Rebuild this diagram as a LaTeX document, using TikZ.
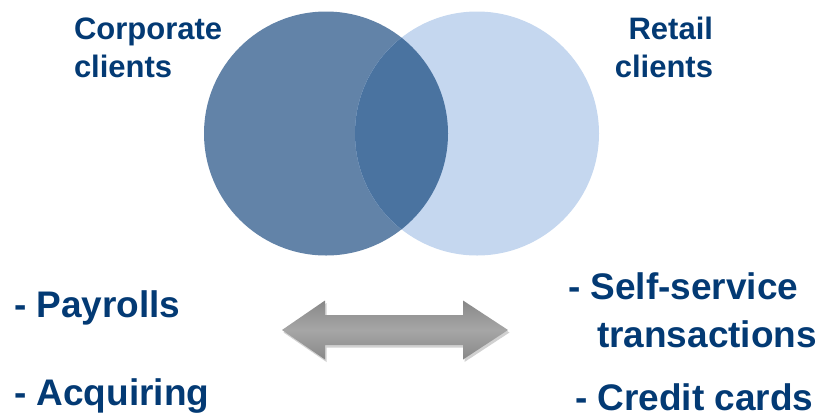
\documentclass[tikz,border=0pt]{standalone}
\usepackage{fontspec}
\setmainfont{Liberation Sans}
\usetikzlibrary{positioning}
\definecolor{clientblue}{HTML}{033A74}
\definecolor{corpfill}{HTML}{6283A8}
\definecolor{retailfill}{HTML}{C5D7EF}
\definecolor{bothfill}{HTML}{4A73A0}
\definecolor{arrowedge}{HTML}{5E5E5E}
\definecolor{arrowmid}{HTML}{8E8E8E}
\definecolor{arrowlight}{HTML}{A6A6A6}
\pgfdeclareverticalshading{arrowbevel}{100bp}{color(0bp)=(arrowedge);
  color(30bp)=(arrowmid); color(50bp)=(arrowlight); color(70bp)=(arrowmid);
  color(100bp)=(arrowedge)}
\tikzset{
  label text/.style={text=clientblue,font=\bfseries\fontsize{31}{38}\selectfont,
    inner sep=0pt,outer sep=0pt},
  item text/.style={text=clientblue,font=\bfseries\fontsize{37}{44}\selectfont,
    inner sep=0pt,outer sep=0pt,anchor=base west},
  client circle/.style={circle,minimum size=244pt,inner sep=0pt,outer sep=0pt}
}
\begin{document}
\begin{tikzpicture}[x=1pt,y=-1pt]
  \useasboundingbox (0,0) rectangle (819,413);
  % the two client groups
  \node[client circle,fill=corpfill] (corp) at (326,133.5) {};
  \node[client circle,fill=retailfill] (retail) at (477,133.5) {};
  \begin{scope}
    \clip (corp.center) circle[radius=122pt];
    \fill[bothfill] (retail.center) circle[radius=122pt];
  \end{scope}
  \node[label text,anchor=base west,align=left] (corplabel) at (74,77)
    {Corporate\\clients};
  \node[label text,anchor=base east,align=right] (retaillabel) at (713,77)
    {Retail\\clients};
  % services
  \node[item text] (payrolls) at (14,317) {- Payrolls};
  \node[item text] (acquiring) at (14,405) {- Acquiring};
  \node[item text] (selfservice) at (568,299) {- Self-service};
  \node[item text] (transactions) at (597,347) {transactions};
  \node[item text] (creditcards) at (575,410) {- Credit cards};
  % double arrow
  \fill[black,opacity=0.18,xshift=1.5pt,yshift=-2.5pt]
    (282,330)--(325,300.5)--(325,315)--(463,315)--(463,300.5)--(508,330)
    --(463,359.5)--(463,345)--(325,345)--(325,359.5)--cycle;
  \shade[shading=arrowbevel]
    (282,330)--(325,300.5)--(325,315)--(463,315)--(463,300.5)--(508,330)
    --(463,359.5)--(463,345)--(325,345)--(325,359.5)--cycle;
\end{tikzpicture}
\end{document}
